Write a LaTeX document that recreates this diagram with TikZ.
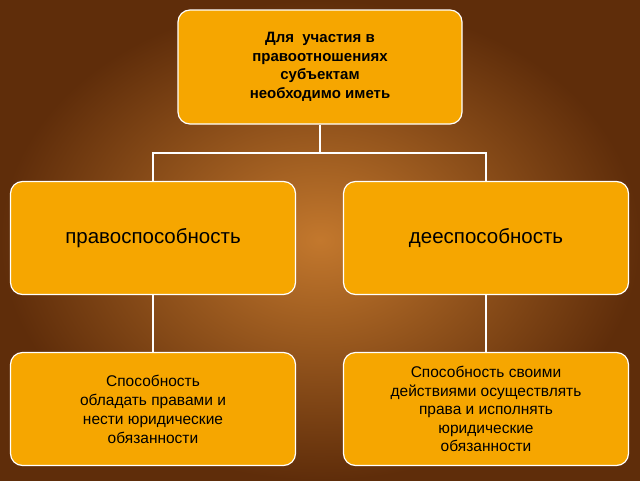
\documentclass[tikz,border=0pt]{standalone}
\usepackage{fontspec}
\setmainfont{Liberation Sans}
\begin{document}
\begin{tikzpicture}[x=1pt,y=-1pt,
  box/.style={draw=white,line width=1.2pt,fill={rgb,255:red,246;green,166;blue,0},rounded corners=12pt,minimum width=285pt,minimum height=113pt,align=center,text=black},
  con/.style={draw=white,line width=1.5pt}]
\useasboundingbox (0,0) rectangle (640,480);
\shade[inner color={rgb,255:red,195;green,120;blue,45},outer color={rgb,255:red,95;green,45;blue,10}] (0,0) rectangle (640,480);
\node[box,minimum width=284pt,minimum height=114pt] (top) at (320,67) {};
\node[font=\bfseries\fontsize{15}{18.5}\selectfont,align=center] (tt) at (320,67) {Для \ участия в\\правоотношениях\\субъектам\\ необходимо иметь};
\node[box,font=\fontsize{20.5}{24}\selectfont] (l) at (153,238) {правоспособность};
\node[box,font=\fontsize{20.5}{24}\selectfont] (r) at (486,238) {дееспособность};
\node[box,font=\fontsize{15.5}{19}\selectfont] (bl) at (153,409) {Способность\\ обладать правами и\\нести юридические\\обязанности};
\node[box,font=\fontsize{15.5}{18.5}\selectfont] (br) at (486,409) {Способность своими\\действиями осуществлять\\права и исполнять\\юридические\\ обязанности};
\coordinate (j) at (320,153);
\draw[con] (top.south) -- (j);
\draw[con] (l.north) |- (j) -| (r.north);
\draw[con] (l.south) -- (bl.north);
\draw[con] (r.south) -- (br.north);
\end{tikzpicture}
\end{document}
